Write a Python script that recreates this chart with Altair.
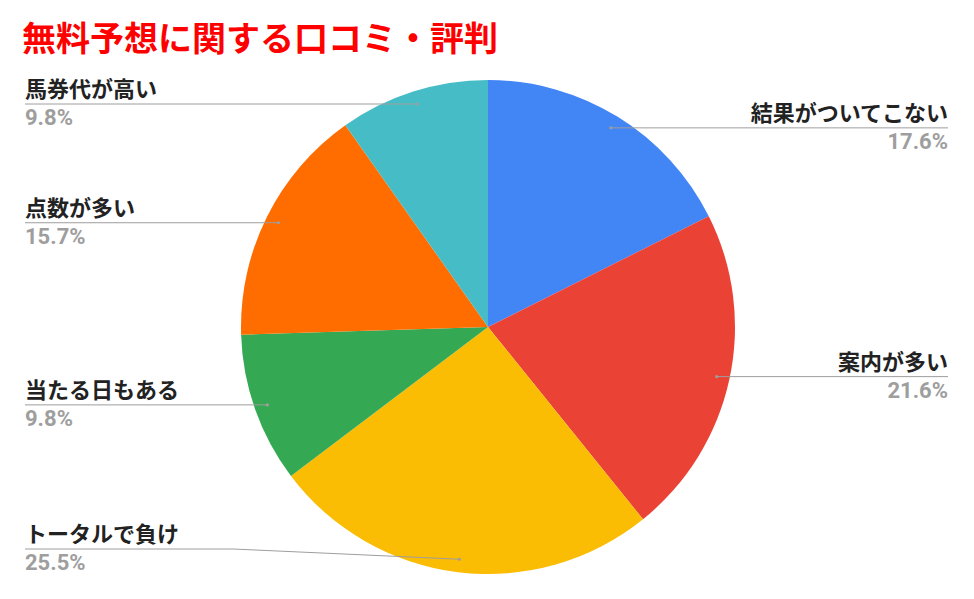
import math
import altair as alt
import pandas as pd

# ---- data ----
title_text = "無料予想に関する口コミ・評判"
categories = ["結果がついてこない", "案内が多い", "トータルで負け", "当たる日もある", "点数が多い", "馬券代が高い"]
values = [17.6, 21.6, 25.5, 9.8, 15.7, 9.8]
colors = ["#4285F4", "#EA4335", "#FBBC04", "#34A853", "#FF6D01", "#46BDC6"]

# ---- layout ----
W, H = 958, 583
CX, CY, R = 480, 319, 247
DOT_R = 234
LEFT_X, RIGHT_X = 17, 940
KNEE_LEFT, KNEE_RIGHT = 225, 733
LINE_Y_MAX = 541

total = sum(values)
rows = []
cum = 0.0
for i, (c, v) in enumerate(zip(categories, values)):
    mid = (cum + v / 2) / total * 2 * math.pi
    cum += v
    dx = CX + DOT_R * math.sin(mid)
    dy = CY - DOT_R * math.cos(mid)
    side = "right" if math.sin(mid) > 0 else "left"
    ly = min(dy, LINE_Y_MAX)
    rows.append(dict(idx=i, cat=c, value=v, pct=f"{v:.1f}%", dotx=dx, doty=dy, side=side,
                     liney=ly, textx=RIGHT_X if side == "right" else LEFT_X,
                     kneex=KNEE_RIGHT if side == "right" else KNEE_LEFT))
df = pd.DataFrame(rows)

xs = alt.Scale(domain=[0, W], nice=False, zero=False)
ys = alt.Scale(domain=[0, H], nice=False, zero=False, reverse=True)
noax = None

pie = alt.Chart(df).mark_arc(radius=R).encode(
    theta=alt.Theta("value:Q", stack=True),
    order=alt.Order("idx:Q"),
    color=alt.Color("cat:N", scale=alt.Scale(domain=categories, range=colors), legend=None),
    x=alt.value(CX), y=alt.value(CY),
)

line1 = alt.Chart(df).mark_rule(color="#9e9e9e", strokeWidth=1).encode(
    x=alt.X("textx:Q", scale=xs, axis=noax), x2="kneex:Q",
    y=alt.Y("liney:Q", scale=ys, axis=noax), y2="liney:Q",
)
line2 = alt.Chart(df).mark_rule(color="#9e9e9e", strokeWidth=1).encode(
    x=alt.X("kneex:Q", scale=xs, axis=noax), x2="dotx:Q",
    y=alt.Y("liney:Q", scale=ys, axis=noax), y2="doty:Q",
)
dots = alt.Chart(df).mark_point(filled=True, color="#9e9e9e", size=10, opacity=1).encode(
    x=alt.X("dotx:Q", scale=xs, axis=noax),
    y=alt.Y("doty:Q", scale=ys, axis=noax),
)

def texts(side, align):
    base = alt.Chart(df).transform_filter(alt.datum.side == side)
    name = base.mark_text(align=align, baseline="alphabetic", dy=-7, font="Noto Sans CJK JP",
                          fontWeight="bold", fontSize=22, color="#222222").encode(
        x=alt.X("textx:Q", scale=xs, axis=noax), y=alt.Y("liney:Q", scale=ys, axis=noax), text="cat:N")
    pct = base.mark_text(align=align, baseline="alphabetic", dy=21, font="Roboto",
                         fontWeight="bold", fontSize=22, color="#9e9e9e").encode(
        x=alt.X("textx:Q", scale=xs, axis=noax), y=alt.Y("liney:Q", scale=ys, axis=noax), text="pct:N")
    return name + pct

title = alt.Chart(pd.DataFrame({"t": [title_text]})).mark_text(
    align="left", baseline="alphabetic", font="Noto Sans CJK JP", fontWeight="bold",
    fontSize=34, color="#FF0000").encode(x=alt.value(14), y=alt.value(43), text="t:N")

chart = alt.layer(pie, line1, line2, dots, texts("left", "left"), texts("right", "right"), title).properties(
    width=W, height=H, padding=0, autosize="none"
).configure_view(stroke=None)

chart.save("out.html", embed_options={"renderer": "svg", "actions": False})
